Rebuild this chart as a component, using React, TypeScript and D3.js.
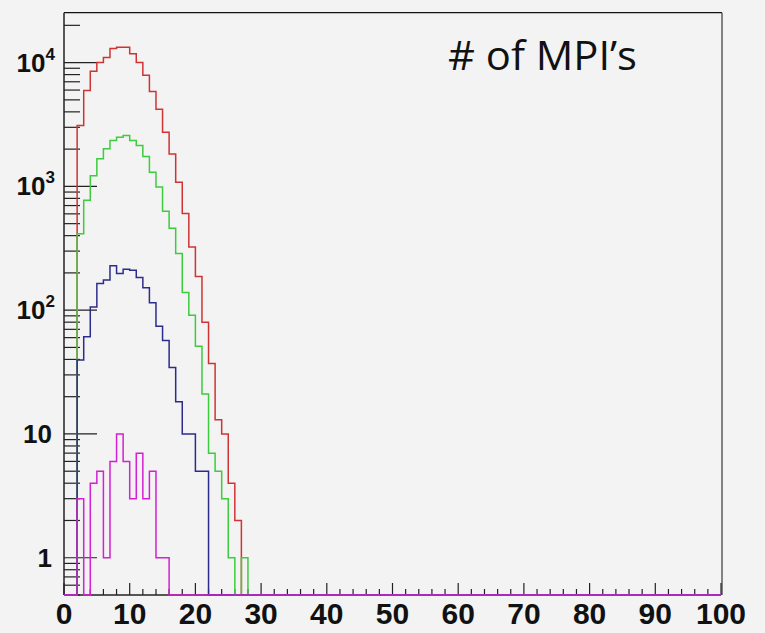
import React from 'react';
import * as d3 from 'd3';

// ---------------- data ----------------
// Histogram of the number of MPIs, unit-width bins from 0 to 100 (bin i = [i, i+1)).
// Bins not listed are empty (0 entries).
const nBins = 100;
const redCounts = [0, 0, 3100, 5940, 8500, 10000, 11000, 13000, 13300, 13300, 11800, 10000, 7900, 5850, 4200, 2740, 1830, 1080, 603, 324, 187, 80, 37, 13, 10, 4, 2];
const greenCounts = [0, 0, 415, 771, 1220, 1670, 2010, 2350, 2500, 2580, 2350, 2140, 1745, 1300, 988, 630, 460, 287, 139, 91, 51, 21, 7, 5, 3, 1, 0, 1];
const blueCounts = [0, 0, 39.5, 61, 106, 164, 175, 228, 198, 214, 210, 184, 152, 115, 74, 57, 34.5, 18.2, 10, 10, 5, 5];
const magentaCounts = [0, 0, 3, 0, 4, 5, 1, 6, 10, 6, 3, 7, 3, 5, 1, 1];

const seriesColors = ['#cf3434', '#3dcc3d', '#2c2c8c', '#d41fd4'];

const xMajorTicks = [0, 10, 20, 30, 40, 50, 60, 70, 80, 90, 100];
const xTickLabels = ['0', '10', '20', '30', '40', '50', '60', '70', '80', '90', '100'];
const yDecades = [1, 10, 100, 1000, 10000];
const yLabelBase = ['1', '10', '10', '10', '10'];
const yLabelExp = ['', '', '2', '3', '4'];
const title = '# of MPI\u2019s';

// ---------------- layout ----------------
const W = 765;
const H = 633;
const frame = { left: 64, right: 721, top: 12.7, bottom: 595 };

export default function App() {
  const x = d3.scaleLinear().domain([0, nBins]).range([frame.left, frame.right]);
  const y = d3.scaleLog().domain([0.5, 25300]).range([frame.bottom, frame.top]);

  const line = d3.line<[number, number]>().x((d) => d[0]).y((d) => d[1]);

  const histPath = (counts: number[]) => {
    const pts: [number, number][] = [];
    for (let i = 0; i < nBins; i++) {
      const v = counts[i] ?? 0;
      const yy = v > 0 ? y(v) : frame.bottom;
      pts.push([x(i), yy], [x(i + 1), yy]);
    }
    return line(pts) || '';
  };

  const allSeries = [redCounts, greenCounts, blueCounts, magentaCounts];

  // minor ticks
  const xMinor = d3.range(0, nBins + 1, 2).filter((v) => v % 10 !== 0);
  const yMinor: number[] = [];
  [0.1, 1, 10, 100, 1000, 10000].forEach((dec) => {
    for (let k = 2; k <= 9; k++) {
      const v = dec * k;
      if (v >= 0.5 && v <= 25300) yMinor.push(v);
    }
  });

  return (
    <svg
      width={W}
      height={H}
      style={{ position: 'absolute', left: 0, top: 0, display: 'block' }}
    >
      <rect x={0} y={0} width={W} height={H} fill="#f3f3f3" />

      {/* frame */}
      <line x1={frame.left} x2={frame.right + 1} y1={frame.top} y2={frame.top} stroke="#111" strokeWidth={1.3} />
      <line x1={frame.right + 1} x2={frame.right + 1} y1={frame.top} y2={frame.bottom} stroke="#444" strokeWidth={1.3} />
      <line x1={frame.left} x2={frame.left} y1={frame.top} y2={frame.bottom} stroke="#222" strokeWidth={1.5} />
      <line x1={frame.left} x2={frame.right} y1={frame.bottom} y2={frame.bottom} stroke="#222" strokeWidth={1.5} />

      {/* y ticks */}
      {yDecades.map((v) => (
        <line key={'yM' + v} x1={frame.left} x2={frame.left + 33} y1={y(v)} y2={y(v)} stroke="#222" strokeWidth={1.2} />
      ))}
      {yMinor.map((v) => (
        <line key={'ym' + v} x1={frame.left} x2={frame.left + 16} y1={y(v)} y2={y(v)} stroke="#222" strokeWidth={1.2} />
      ))}

      {/* x ticks */}
      {xMajorTicks.map((v) => (
        <line key={'xM' + v} x1={x(v)} x2={x(v)} y1={frame.bottom} y2={frame.bottom - 12} stroke="#222" strokeWidth={1.2} />
      ))}
      {xMinor.map((v) => (
        <line key={'xm' + v} x1={x(v)} x2={x(v)} y1={frame.bottom} y2={frame.bottom - 6} stroke="#222" strokeWidth={1.2} />
      ))}

      {/* histograms */}
      {allSeries.map((counts, i) => (
        <path key={'h' + i} d={histPath(counts)} fill="none" stroke={seriesColors[i]} strokeWidth={1.5} />
      ))}

      {/* x labels */}
      {xMajorTicks.map((v, i) => (
        <text
          key={'xl' + v}
          x={x(v)}
          y={624}
          textAnchor="middle"
          fontFamily="'Liberation Sans', Arial, sans-serif"
          fontWeight="bold"
          fontSize={30}
          fill="#111"
        >
          {xTickLabels[i]}
        </text>
      ))}

      {/* y labels */}
      {yDecades.map((v, i) => (
        <text
          key={'yl' + v}
          x={yLabelExp[i] ? 55 : 52}
          y={y(v) + 9}
          textAnchor="end"
          fontFamily="'Liberation Sans', Arial, sans-serif"
          fontWeight="bold"
          fontSize={26}
          fill="#111"
        >
          {yLabelBase[i]}
          {yLabelExp[i] ? (
            <tspan fontSize={17} dy={-12}>
              {yLabelExp[i]}
            </tspan>
          ) : null}
        </text>
      ))}

      {/* title */}
      <text
        x={448}
        y={70}
        fontFamily="'Open Sans', Lato, sans-serif"
        fontSize={40}
        textLength={189}
        lengthAdjust="spacingAndGlyphs"
        fill="#111"
      >
        {title}
      </text>
    </svg>
  );
}
